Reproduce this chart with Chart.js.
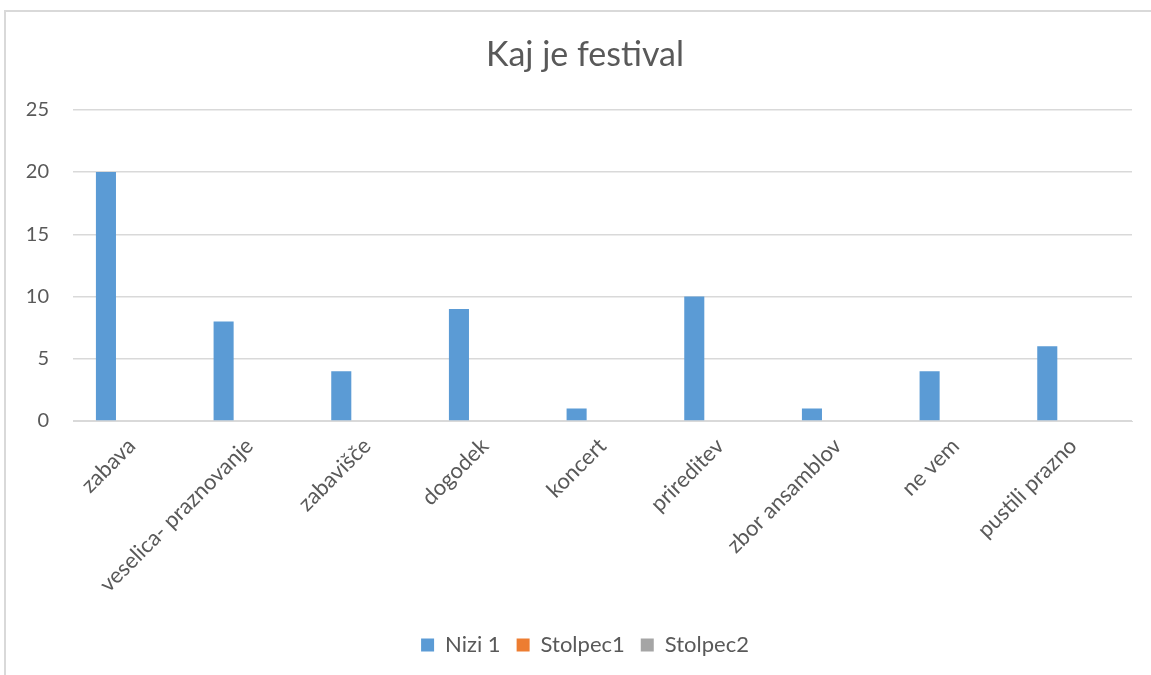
<!DOCTYPE html>
<html>
<head>
<meta charset="utf-8">
<script src="https://cdn.jsdelivr.net/npm/chart.js@4.4.1/dist/chart.umd.min.js"></script>
<style>
  html, body { margin:0; padding:0; background:#fff; overflow:hidden; }
  .frame { position:absolute; left:4px; top:10px; width:1300px; height:800px; border:2px solid #d9d9d9; box-sizing:border-box; }
  .wrap { position:absolute; left:0; top:0; width:1151px; height:675px; }
</style>
</head>
<body>
<div class="frame"></div>
<div class="wrap"><canvas id="festivalChart"></canvas></div>
<script>
const categories = ["zabava", "veselica- praznovanje", "zabavišče", "dogodek", "koncert", "prireditev", "zbor ansamblov", "ne vem", "pustili prazno"];
const nizi1 = [20, 8, 4, 9, 1, 10, 1, 4, 6];
const stolpec1 = [null, null, null, null, null, null, null, null, null];
const stolpec2 = [null, null, null, null, null, null, null, null, null];
const yTicks = [0, 5, 10, 15, 20, 25];

const TEXT = "#595959";
const GRID = "#d9d9d9";
const FONT = "Lato, 'Open Sans', sans-serif";

// title and legend sit a bit right of the canvas centre in the original
const shiftBoxes = {
  id: "shiftBoxes",
  afterLayout(chart){
    const d = 19;
    [chart.titleBlock, chart.legend].forEach(b => {
      if(b){ b.left += d; b.right += d; }
    });
  }
};

new Chart(document.getElementById("festivalChart").getContext("2d"), {
  type: "bar",
  data: {
    labels: categories,
    datasets: [
      { label: "Nizi 1", data: nizi1, backgroundColor: "#5b9bd5" },
      { label: "Stolpec1", data: stolpec1, backgroundColor: "#ed7d31" },
      { label: "Stolpec2", data: stolpec2, backgroundColor: "#a5a5a5" }
    ]
  },
  plugins: [shiftBoxes],
  options: {
    responsive: true,
    maintainAspectRatio: false,
    animation: false,
    categoryPercentage: 0.66,
    barPercentage: 0.775,
    layout: { padding: { left: 0, right: 19, top: 0, bottom: 9 } },
    plugins: {
      title: {
        display: true,
        text: "Kaj je festival",
        color: TEXT,
        font: { family: FONT, size: 34, weight: "normal", lineHeight: 1.2 },
        padding: { top: 35, bottom: 34 }
      },
      legend: {
        position: "bottom",
        labels: {
          color: TEXT,
          font: { family: FONT, size: 22 },
          boxWidth: 13,
          boxHeight: 13,
          padding: 16
        }
      },
      tooltip: { enabled: false }
    },
    scales: {
      x: {
        grid: { display: false, drawTicks: false },
        border: { color: GRID },
        ticks: {
          color: TEXT,
          font: { family: FONT, size: 22 },
          minRotation: 45,
          maxRotation: 45,
          autoSkip: false,
          padding: 12
        },
        afterFit: (s) => { s.height = 197; }
      },
      y: {
        min: 0,
        max: 25,
        grid: { color: GRID, lineWidth: 1.5, drawTicks: false },
        border: { display: false },
        afterBuildTicks: (s) => { s.ticks = yTicks.map(v => ({ value: v })); },
        ticks: {
          color: TEXT,
          font: { family: FONT, size: 20 },
          padding: 24
        },
        afterFit: (s) => { s.width = 73; }
      }
    }
  }
});
</script>
</body>
</html>
